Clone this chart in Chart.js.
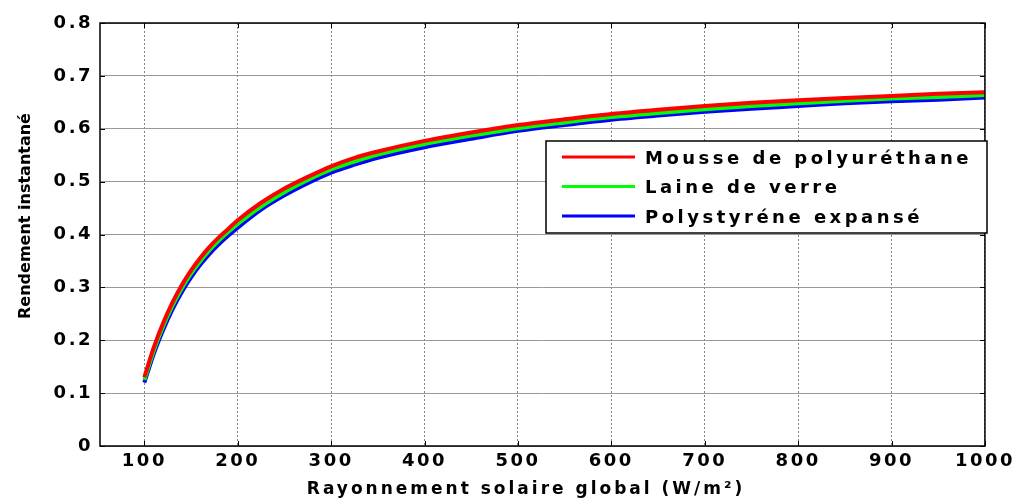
<!DOCTYPE html>
<html>
<head>
<meta charset="utf-8">
<script src="https://cdn.jsdelivr.net/npm/chart.js@4"></script>
<style>
  body { margin: 0; background: #fff; }
  canvas { display: block; }
</style>
</head>
<body>
<canvas id="myChart" width="1020" height="504"></canvas>
<script>
// values
const irradiance = [100, 110, 120, 130, 140, 150, 160, 170, 180, 190, 200, 225, 250, 275, 300, 325, 350,
                    400, 450, 500, 550, 600, 650, 700, 750, 800, 850, 900, 950, 1000];
const polyurethane = [0.130, 0.186, 0.232, 0.271, 0.304, 0.332, 0.356, 0.377, 0.395, 0.411, 0.427, 0.460, 0.487, 0.509, 0.529, 0.545, 0.557,
                      0.577, 0.593, 0.607, 0.618, 0.628, 0.636, 0.643, 0.649, 0.654, 0.658, 0.662, 0.666, 0.669];
const laineVerre = [0.125, 0.180, 0.226, 0.265, 0.298, 0.326, 0.350, 0.371, 0.389, 0.405, 0.420, 0.453, 0.480, 0.503, 0.523, 0.538, 0.551,
                    0.571, 0.587, 0.601, 0.612, 0.622, 0.630, 0.637, 0.643, 0.648, 0.653, 0.657, 0.660, 0.664];
const polystyrene = [0.120, 0.174, 0.219, 0.258, 0.291, 0.319, 0.343, 0.364, 0.382, 0.398, 0.413, 0.447, 0.474, 0.497, 0.517, 0.532, 0.545,
                     0.565, 0.581, 0.596, 0.607, 0.617, 0.625, 0.632, 0.638, 0.643, 0.648, 0.652, 0.655, 0.659];
const seriesNames = ['Mousse de polyuréthane', 'Laine de verre', 'Polystyréne expansé'];
const seriesColors = ['#ff0000', '#00ff00', '#0000ff'];
const xTicks = [100, 200, 300, 400, 500, 600, 700, 800, 900, 1000];
const yTicks = [0, 0.1, 0.2, 0.3, 0.4, 0.5, 0.6, 0.7, 0.8];
const xTitle = 'Rayonnement solaire global (W/m²)';
const yTitle = 'Rendement instantané';

const FONT = '"DejaVu Sans", Arial, sans-serif';

function toPoints(ys) {
    return irradiance.map((x, i) => ({x: x, y: ys[i]}));
}

// frame, inward ticks, axis titles and the legend box, MATLAB style
const matlabLook = {
    id: 'matlabLook',
    beforeUpdate(chart) { chart.ctx.letterSpacing = '2.5px'; },
    beforeDraw(chart) { chart.ctx.letterSpacing = '2.5px'; },
    afterDraw(chart) {
        const ctx = chart.ctx;
        const a = chart.chartArea;
        const xs = chart.scales.x, ys = chart.scales.y;
        ctx.save();
        ctx.letterSpacing = '0px';

        // ticks pointing inward
        ctx.strokeStyle = '#000';
        ctx.lineWidth = 1;
        ctx.beginPath();
        xTicks.forEach(v => {
            const px = Math.round(xs.getPixelForValue(v)) + 0.5;
            ctx.moveTo(px, a.bottom); ctx.lineTo(px, a.bottom - 5);
            ctx.moveTo(px, a.top); ctx.lineTo(px, a.top + 5);
        });
        yTicks.forEach(v => {
            const py = Math.round(ys.getPixelForValue(v)) + 0.5;
            ctx.moveTo(a.left, py); ctx.lineTo(a.left + 5, py);
            ctx.moveTo(a.right, py); ctx.lineTo(a.right - 5, py);
        });
        ctx.stroke();

        // frame
        ctx.lineWidth = 1.5;
        ctx.strokeRect(a.left, a.top, a.right - a.left, a.bottom - a.top);

        // x title
        ctx.fillStyle = '#000';
        ctx.font = 'bold 17px ' + FONT;
        ctx.letterSpacing = '3px';
        ctx.textAlign = 'center';
        ctx.textBaseline = 'middle';
        ctx.fillText(xTitle, 526, 490);

        // y title
        ctx.save();
        ctx.translate(26, 216);
        ctx.rotate(-Math.PI / 2);
        ctx.font = 'bold 16px ' + FONT;
        ctx.letterSpacing = '0px';
        ctx.fillText(yTitle, 0, 0);
        ctx.restore();

        // legend
        const lx = 546, ly = 141, lw = 441, lh = 92;
        ctx.fillStyle = '#fff';
        ctx.fillRect(lx, ly, lw, lh);
        ctx.strokeStyle = '#000';
        ctx.lineWidth = 1.5;
        ctx.strokeRect(lx, ly, lw, lh);
        ctx.font = 'bold 18px ' + FONT;
        ctx.letterSpacing = '3.5px';
        ctx.textAlign = 'left';
        chart.data.datasets.forEach((ds, i) => {
            const y = ly + 16 + i * 29.5;
            ctx.strokeStyle = ds.borderColor;
            ctx.lineWidth = 3;
            ctx.beginPath();
            ctx.moveTo(lx + 16, y);
            ctx.lineTo(lx + 89, y);
            ctx.stroke();
            ctx.fillStyle = '#000';
            ctx.fillText(ds.label, lx + 99, y + 2);
        });
        ctx.restore();
    }
};

const ctx = document.getElementById('myChart').getContext('2d');
const chart = new Chart(ctx, {
    type: 'line',
    data: {
        datasets: [polyurethane, laineVerre, polystyrene].map((vals, i) => ({
            label: seriesNames[i],
            data: toPoints(vals),
            borderColor: seriesColors[i],
            backgroundColor: seriesColors[i],
            borderWidth: 4,
            pointRadius: 0,
            cubicInterpolationMode: 'monotone',
            fill: false
        }))
    },
    options: {
        responsive: false,
        animation: false,
        layout: { padding: { top: 23, right: 35, left: 0, bottom: 0 } },
        plugins: {
            legend: { display: false },
            tooltip: { enabled: false }
        },
        scales: {
            x: {
                type: 'linear',
                min: 52.5,
                max: 1000,
                afterBuildTicks: s => { s.ticks = xTicks.map(v => ({value: v})); },
                afterFit: s => { s.height = 58; },
                grid: { color: '#808080', lineWidth: 1, drawTicks: false },
                border: { display: false, dash: [2, 2] },
                ticks: {
                    color: '#000',
                    padding: 5,
                    maxRotation: 0,
                    font: { family: FONT, size: 18, weight: 'bold' },
                    callback: v => String(v)
                }
            },
            y: {
                min: 0,
                max: 0.8,
                afterBuildTicks: s => { s.ticks = yTicks.map(v => ({value: v})); },
                afterFit: s => { s.width = 100; },
                grid: { color: '#999999', lineWidth: 1, drawTicks: false },
                border: { display: false },
                ticks: {
                    color: '#000',
                    padding: 7,
                    font: { family: FONT, size: 18, weight: 'bold' },
                    callback: v => (v === 0 ? '0' : v.toFixed(1))
                }
            }
        }
    },
    plugins: [matlabLook]
});
</script>
</body>
</html>
